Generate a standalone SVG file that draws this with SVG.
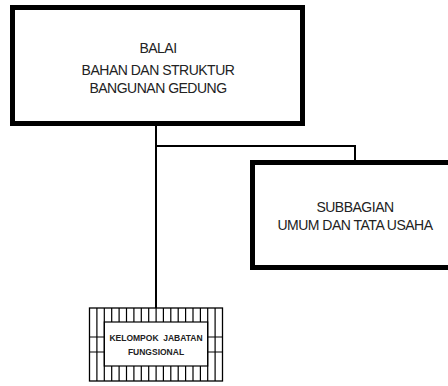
<svg xmlns="http://www.w3.org/2000/svg" width="448" height="386" viewBox="0 0 448 386">
<style>
.box{fill:#fff;stroke:#000;stroke-width:5}
.conn{fill:none;stroke:#000;stroke-width:2}
.grid{fill:none;stroke:#000;stroke-width:1.2}
.t{font-family:"Liberation Sans",Arial,sans-serif;font-size:14px;letter-spacing:-0.5px;fill:#222;text-anchor:middle}
.s{font-family:"Liberation Sans",Arial,sans-serif;font-size:8.5px;font-weight:bold;fill:#222;text-anchor:middle}
</style>
<rect width="448" height="386" fill="#fff"/>
<g id="connectors">
<path class="conn" d="M156,126V308"/>
<path class="conn" d="M156,146H355V161"/>
</g>
<g id="balai">
<rect class="box" x="12.5" y="7.5" width="290" height="116"/>
<text class="t" x="158" y="53">BALAI</text>
<text class="t" x="158" y="75">BAHAN DAN STRUKTUR</text>
<text class="t" x="158" y="93">BANGUNAN GEDUNG</text>
</g>
<g id="subbagian">
<rect class="box" x="252.5" y="162.5" width="205" height="105"/>
<text class="t" x="355" y="212">SUBBAGIAN</text>
<text class="t" x="355" y="230">UMUM DAN TATA USAHA</text>
</g>
<g id="kelompok">
<rect x="89.5" y="308" width="133" height="73" fill="#fff" stroke="#000" stroke-width="1.3"/>
<rect x="104.3" y="322" width="103.4" height="44" fill="#fff" class="grid"/>
<path class="grid" d="M96.9,308V381M104.3,308V381M111.7,308V322M119.1,308V322M126.5,308V322M133.9,308V322M141.3,308V322M148.7,308V322M156.1,308V322M163.4,308V322M170.8,308V322M178.2,308V322M185.6,308V322M193,308V322M200.4,308V322M207.7,308V381M215.1,308V381M111.7,366V381M119.1,366V381M126.5,366V381M133.9,366V381M141.3,366V381M148.7,366V381M156.1,366V381M163.4,366V381M170.8,366V381M178.2,366V381M185.6,366V381M193,366V381M200.4,366V381M89.5,337H104.3M89.5,352H104.3M207.7,337H222.5M207.7,352H222.5"/>
<text class="s" x="156" y="341" xml:space="preserve">KELOMPOK  JABATAN</text>
<text class="s" x="156" y="355">FUNGSIONAL</text>
</g>
</svg>
